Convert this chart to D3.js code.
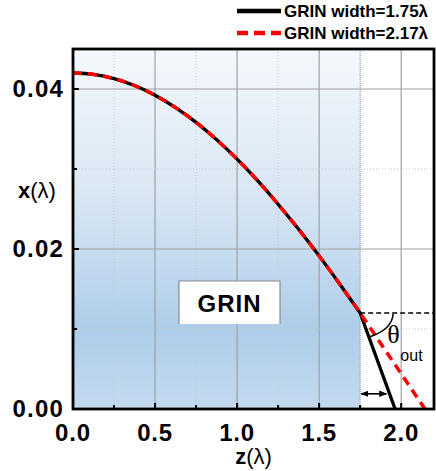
<!DOCTYPE html>
<html>
<head>
<meta charset="utf-8">
<script src="https://cdn.jsdelivr.net/npm/d3@7"></script>
<style>
  body { margin: 0; background: #fff; }
  svg { display: block; font-family: "Liberation Sans", Arial, sans-serif; }
</style>
</head>
<body>
<svg id="chart"></svg>
<script>
// values
var zProfile = [0, 0.125, 0.25, 0.375, 0.5, 0.625, 0.75, 0.875, 1.0, 1.125, 1.25, 1.375, 1.5, 1.625, 1.75];
var xProfile175 = [0.0420, 0.04182, 0.04130, 0.04043, 0.03922, 0.03768, 0.03583, 0.03367, 0.03124, 0.02855, 0.02560, 0.02246, 0.01914, 0.01563, 0.0120];
var xProfile217 = [0.0420, 0.04182, 0.04130, 0.04043, 0.03922, 0.03768, 0.03583, 0.03367, 0.03124, 0.02855, 0.02560, 0.02246, 0.01914, 0.01563, 0.0120];
var exit175 = [1.963, 0];   // where the outgoing ray hits x=0
var exit217 = [2.145, 0];
var grinEnd = 1.75;
var seriesNames = ["GRIN width=1.75\u03bb", "GRIN width=2.17\u03bb"];
var xTicks = [0, 0.5, 1.0, 1.5, 2.0];
var yTicks = [0, 0.02, 0.04];

var width = 436, height = 471;
var pL = 73, pR = 434, pT = 49, pB = 409;   // plot box

var svg = d3.select("#chart").attr("width", width).attr("height", height);

var x = d3.scaleLinear().domain([0, 2.2]).range([pL, pR]);
var y = d3.scaleLinear().domain([0, 0.045]).range([pB, pT]);

// gradient for the GRIN region
var defs = svg.append("defs");
var grad = defs.append("linearGradient").attr("id", "grinfill")
    .attr("x1", 0).attr("y1", 0).attr("x2", 0).attr("y2", 1);
grad.append("stop").attr("offset", "0%").attr("stop-color", "#f4f8fc");
grad.append("stop").attr("offset", "40%").attr("stop-color", "#d9e7f4");
grad.append("stop").attr("offset", "78%").attr("stop-color", "#aecde9");
grad.append("stop").attr("offset", "100%").attr("stop-color", "#c3daef");

defs.append("clipPath").attr("id", "plotclip")
  .append("rect").attr("x", pL).attr("y", pT).attr("width", pR - pL).attr("height", pB - pT);

defs.append("marker").attr("id", "arrowhead")
    .attr("viewBox", "0 0 10 10").attr("refX", 9).attr("refY", 5)
    .attr("markerWidth", 5).attr("markerHeight", 5).attr("orient", "auto-start-reverse")
  .append("path").attr("d", "M0,1 L10,5 L0,9 Z").attr("fill", "#000");

svg.append("rect")
    .attr("x", x(0)).attr("y", pT)
    .attr("width", x(grinEnd) - x(0)).attr("height", pB - pT)
    .attr("fill", "url(#grinfill)");

// grid lines
var grid = svg.append("g");
d3.range(0.25, 2.2, 0.5).forEach(function(v) {
    if (Math.abs(v - grinEnd) < 1e-6) return;
    grid.append("line").attr("x1", x(v)).attr("x2", x(v)).attr("y1", pT).attr("y2", pB)
        .attr("stroke", "#c8c8c8").attr("stroke-width", 1).attr("stroke-dasharray", "1,2");
});
xTicks.slice(1).forEach(function(v) {
    grid.append("line").attr("x1", x(v)).attr("x2", x(v)).attr("y1", pT).attr("y2", pB)
        .attr("stroke", "#a0a0a0").attr("stroke-width", 1.2);
});
[0.01, 0.03].forEach(function(v) {
    grid.append("line").attr("x1", pL).attr("x2", pR).attr("y1", y(v)).attr("y2", y(v))
        .attr("stroke", "#c8c8c8").attr("stroke-width", 1).attr("stroke-dasharray", "1,2");
});
[0.02, 0.04].forEach(function(v) {
    grid.append("line").attr("x1", pL).attr("x2", pR).attr("y1", y(v)).attr("y2", y(v))
        .attr("stroke", "#a0a0a0").attr("stroke-width", 1.2);
});
// edge of the GRIN slab
grid.append("line").attr("x1", x(grinEnd)).attr("x2", x(grinEnd)).attr("y1", pT).attr("y2", pB)
    .attr("stroke", "#6f94c4").attr("stroke-width", 1).attr("stroke-dasharray", "1,1");

// GRIN label box (open at the bottom)
var bx0 = 179, bx1 = 280, by0 = 281, by1 = 324;
svg.append("rect").attr("x", bx0).attr("y", by0).attr("width", bx1 - bx0).attr("height", by1 - by0).attr("fill", "#fff");
svg.append("path").attr("d", "M" + bx0 + "," + by1 + "V" + by0 + "H" + bx1 + "V" + by1)
    .attr("fill", "none").attr("stroke", "#8a8a8a").attr("stroke-width", 1.2);
svg.append("text").attr("x", (bx0 + bx1) / 2).attr("y", 312).attr("text-anchor", "middle")
    .attr("font-size", 24).attr("font-weight", "bold").attr("letter-spacing", 1).text("GRIN");

// ray paths
var profileLine = d3.line().x(function(d) { return x(d[0]); }).y(function(d) { return y(d[1]); })
    .curve(d3.curveMonotoneX);
function rayPath(xs, exit) {
    var pts = zProfile.map(function(z, i) { return [z, xs[i]]; });
    return profileLine(pts) + "L" + x(exit[0]) + "," + y(exit[1]);
}

var plot = svg.append("g").attr("clip-path", "url(#plotclip)");

// horizontal reference at the exit point
var yExit = y(xProfile175[xProfile175.length - 1]);
plot.append("line").attr("x1", x(grinEnd)).attr("x2", pR).attr("y1", yExit).attr("y2", yExit)
    .attr("stroke", "#000").attr("stroke-width", 1.5).attr("stroke-dasharray", "5,3");

plot.append("path").attr("d", rayPath(xProfile175, exit175))
    .attr("fill", "none").attr("stroke", "#000").attr("stroke-width", 3.3);
plot.append("path").attr("d", rayPath(xProfile217, exit217))
    .attr("fill", "none").attr("stroke", "#ff0000").attr("stroke-width", 3.5).attr("stroke-dasharray", "9,6");

// theta_out arc and label
var arcPts = [[1.951, 0.0119], [1.945, 0.0099], [1.805, 0.0090]];
svg.append("path")
    .attr("d", "M" + x(arcPts[0][0]) + "," + y(arcPts[0][1]) + "Q" + x(arcPts[1][0]) + "," + y(arcPts[1][1]) + " " + x(arcPts[2][0]) + "," + y(arcPts[2][1]))
    .attr("fill", "none").attr("stroke", "#000").attr("stroke-width", 1.5);
svg.append("text").attr("x", x(1.915)).attr("y", y(0.0083))
    .attr("font-family", "'Liberation Serif', 'Times New Roman', serif").attr("font-size", 26).text("\u03b8");
svg.append("text").attr("x", x(1.995)).attr("y", y(0.006))
    .attr("font-size", 16).text("out");

// double arrow for the shift
svg.append("line").attr("x1", x(grinEnd) + 1).attr("x2", x(1.91)).attr("y1", y(0.0019)).attr("y2", y(0.0019))
    .attr("stroke", "#000").attr("stroke-width", 1.6)
    .attr("marker-start", "url(#arrowhead)").attr("marker-end", "url(#arrowhead)");

// axes: inward ticks
var axisG = svg.append("g");
d3.range(0, 2.21, 0.25).forEach(function(v) {
    var major = Math.abs(v * 2 - Math.round(v * 2)) < 1e-6;
    axisG.append("line").attr("x1", x(v)).attr("x2", x(v)).attr("y1", pB).attr("y2", pB - (major ? 6 : 4))
        .attr("stroke", "#000").attr("stroke-width", 2);
});
d3.range(0, 0.0451, 0.01).forEach(function(v) {
    var major = Math.round(v * 100) % 2 === 0;
    axisG.append("line").attr("x1", pL).attr("x2", pL + (major ? 6 : 4)).attr("y1", y(v)).attr("y2", y(v))
        .attr("stroke", "#000").attr("stroke-width", 2);
});

svg.append("rect").attr("x", pL).attr("y", pT).attr("width", pR - pL).attr("height", pB - pT)
    .attr("fill", "none").attr("stroke", "#000").attr("stroke-width", 2.8);

svg.selectAll(".xlab").data(xTicks).enter().append("text")
    .attr("x", function(d) { return x(d); }).attr("y", 441)
    .attr("text-anchor", "middle").attr("font-size", 24).attr("font-weight", "bold").attr("letter-spacing", 0.8)
    .text(function(d) { return d3.format(".1f")(d); });
svg.selectAll(".ylab").data(yTicks).enter().append("text")
    .attr("x", 64).attr("y", function(d) { return y(d) + 8; })
    .attr("text-anchor", "end").attr("font-size", 24).attr("font-weight", "bold").attr("letter-spacing", 1.2)
    .text(function(d) { return d3.format(".2f")(d); });

// axis titles
var zt = svg.append("text").attr("x", (pL + pR) / 2).attr("y", 464).attr("text-anchor", "middle").attr("font-size", 22);
zt.append("tspan").attr("font-weight", "bold").text("z");
zt.append("tspan").text("(\u03bb)");
var xt = svg.append("text").attr("x", 37).attr("y", 198).attr("text-anchor", "middle").attr("font-size", 22);
xt.append("tspan").attr("font-weight", "bold").text("x");
xt.append("tspan").text("(\u03bb)");

// legend
var legend = svg.append("g");
seriesNames.forEach(function(name, i) {
    var ly = 11 + i * 22;
    legend.append("line").attr("x1", 237).attr("x2", 281).attr("y1", ly).attr("y2", ly)
        .attr("stroke", i === 0 ? "#000" : "#ff0000").attr("stroke-width", 4.5)
        .attr("stroke-dasharray", i === 0 ? null : "11,6");
    legend.append("text").attr("x", 284).attr("y", ly + 6).attr("font-size", 17).attr("font-weight", "bold")
        .text(name);
});
</script>
</body>
</html>
